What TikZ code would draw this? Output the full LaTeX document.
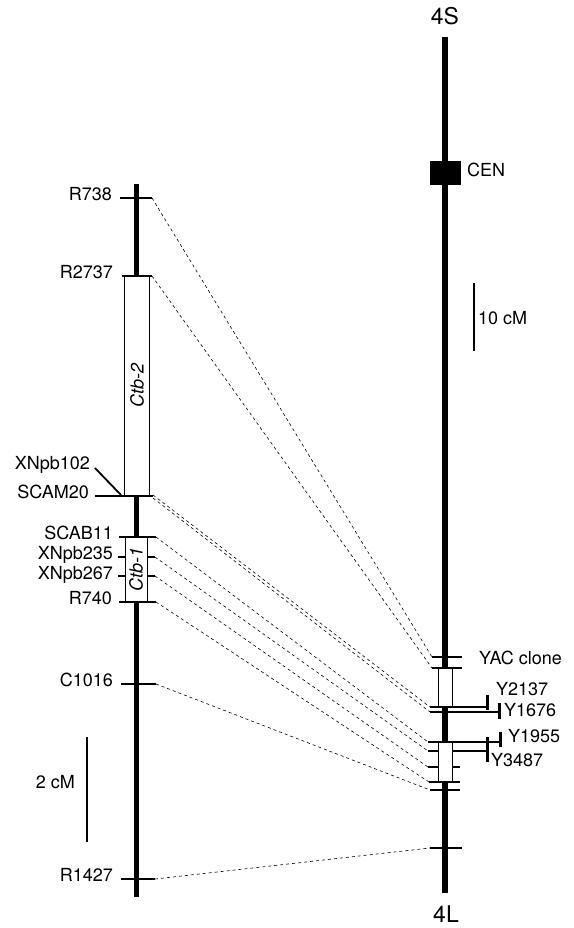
\documentclass[tikz,border=0pt]{standalone}
\usepackage{fontspec}
\setmainfont{TeX Gyre Heros}
\begin{document}
\begin{tikzpicture}[x=1pt,y=-1pt,
  lab/.style={font=\fontsize{18}{18}\selectfont, inner sep=0pt},
  big/.style={font=\fontsize{23}{23}\selectfont, inner sep=0pt},
  chromo/.style={line width=5.5pt},
  tick/.style={line width=1.6pt},
  thin/.style={line width=1.1pt},
  boxst/.style={draw, fill=white, line width=0.8pt},
  ybar/.style={line width=3pt},
  conn/.style={line width=0.6pt, dash pattern=on 3pt off 3pt}]
\useasboundingbox (0,0) rectangle (573,928);

% ---------- left chromosome ----------
\draw[chromo, line width=5pt] (136,184) -- (136,897);
\draw[boxst] (124,276) rectangle (149,496);
\draw[boxst] (125,537) rectangle (147,602);
\node[font=\fontsize{18}{18}\selectfont\itshape, rotate=90, inner sep=0pt] (ctb2) at (137,385) {Ctb-2};
\node[font=\fontsize{18}{18}\selectfont\itshape, rotate=90, inner sep=0pt] (ctb1) at (136,569) {Ctb-1};

\draw[tick] (120,198) -- (152,198);
\draw[tick] (122,276) -- (152,276);
\draw[tick] (95,496) -- (153,496);
\draw[line width=1.8pt] (95,468) -- (121,495);
\draw[tick] (119,537) -- (156,537);
\draw[tick] (118,557) -- (125,557); \draw[tick] (147,557) -- (155,557);
\draw[tick] (118,576) -- (125,576); \draw[tick] (147,576) -- (155,576);
\draw[tick] (119,602) -- (156,602);
\draw[tick] (121,684) -- (156,684);
\draw[tick] (121,879) -- (155,879);

\node[lab, anchor=mid east] (R738) at (112,198) {R738};
\node[lab, anchor=mid east] (R2737) at (113,276) {R2737};
\node[lab, anchor=mid east] (XNpb102) at (90,467) {XNpb102};
\node[lab, anchor=mid east] (SCAM20) at (89,496) {SCAM20};
\node[lab, anchor=mid east] (SCAB11) at (113,537) {SCAB11};
\node[lab, anchor=mid east] (XNpb235) at (113,557) {XNpb235};
\node[lab, anchor=mid east] (XNpb267) at (113,577) {XNpb267};
\node[lab, anchor=mid east] (R740) at (112,602) {R740};
\node[lab, anchor=mid east] (C1016) at (113,684) {C1016};
\node[lab, anchor=mid east] (R1427) at (113,879) {R1427};

% 2 cM scale
\draw[line width=1.5pt] (87,737) -- (87,842);
\node[lab, anchor=mid east] (cm2) at (75,786) {2 cM};

% ---------- right chromosome ----------
\draw[chromo, line width=6pt] (445,37) -- (445,893);
\fill (430,161) rectangle (461,185);
\node[lab, anchor=mid west] (cen) at (467,174) {CEN};
\node[big] (s4) at (445,16) {4S};
\node[big] (l4) at (446,914) {4L};

% 10 cM scale
\draw[line width=1.5pt] (474,283) -- (474,351);
\node[lab, anchor=mid west] (cm10) at (478,322) {10 cM};

% YAC region
\draw[boxst] (438,668) rectangle (452,707);
\draw[boxst] (438,742) rectangle (452,782);
\draw[thin] (432,657) -- (462,657);
\draw[thin] (432,668) -- (462,668);
\draw[thin] (430,707) -- (487,707);
\draw[thin] (430,712) -- (499,712);
\draw[thin] (428,742) -- (500,742);
\draw[thin] (428,751) -- (438,751); \draw[thin] (452,751) -- (487,751);
\draw[thin] (428,767) -- (438,767); \draw[thin] (452,767) -- (460,767);
\draw[thin] (429,782) -- (460,782);
\draw[thin] (430,790) -- (460,790);
\draw[thin] (430,848) -- (462,848);

\draw[ybar] (487,695) -- (487,710);
\draw[ybar] (499,703) -- (499,719);
\draw[ybar] (500,732) -- (500,747);
\draw[ybar] (487,737) -- (487,762);

\node[lab, anchor=mid west] (yac) at (479,662) {YAC clone};
\node[lab, anchor=mid west] (Y2137) at (496,693) {Y2137};
\node[lab, anchor=mid west] (Y1676) at (504,714) {Y1676};
\node[lab, anchor=mid west] (Y1955) at (508,740) {Y1955};
\node[lab, anchor=mid west] (Y3487) at (491,764) {Y3487};

% ---------- connectors ----------
\coordinate (a1) at (152,198);  \coordinate (b1) at (432,657);
\coordinate (a2) at (152,276);  \coordinate (b2) at (432,668);
\coordinate (a3) at (153,495);  \coordinate (b3) at (430,707);
\coordinate (a4) at (153,498);  \coordinate (b4) at (430,712);
\coordinate (a5) at (156,537);  \coordinate (b5) at (428,742);
\coordinate (a6) at (155,557);  \coordinate (b6) at (428,751);
\coordinate (a7) at (155,576);  \coordinate (b7) at (428,767);
\coordinate (a8) at (156,602);  \coordinate (b8) at (429,782);
\coordinate (a9) at (156,684);  \coordinate (b9) at (430,790);
\coordinate (a10) at (155,879); \coordinate (b10) at (430,848);
\foreach \i in {1,...,10} { \draw[conn] (a\i) -- (b\i); }
\end{tikzpicture}
\end{document}
